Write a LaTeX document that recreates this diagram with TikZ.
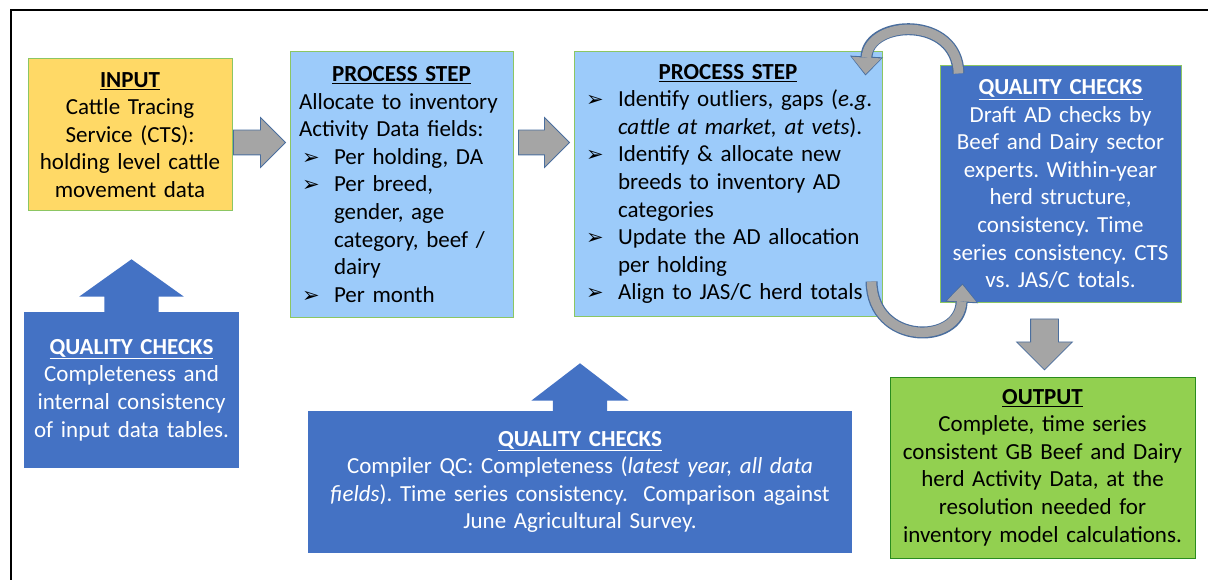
\documentclass[tikz,border=0pt]{standalone}
\usepackage{fontspec}
\setmainfont{Carlito}
\newfontfamily\symfont{DejaVu Sans}
\usetikzlibrary{positioning,shapes.arrows,arrows.meta}

\definecolor{inputfill}{HTML}{FFD966}
\definecolor{stepfill}{HTML}{9CCBFA}
\definecolor{qcblue}{HTML}{4472C4}
\definecolor{outfill}{HTML}{92D050}
\definecolor{greenline}{HTML}{8CC663}
\definecolor{arrowgray}{HTML}{A5A5A5}
\definecolor{arrowline}{HTML}{4A6E9E}

\frenchspacing
\newcommand{\bul}{\par\hangindent=35pt\hangafter=1\noindent\makebox[35pt][l]{\hspace{3pt}{\symfont\fontsize{21}{24}\selectfont ➢}}}

\begin{document}
\begin{tikzpicture}[
        x=1pt, y=-1pt,
        box/.style={
            rectangle,
            inner xsep=9pt,
            inner ysep=0pt,
            line width=1pt,
            font=\fontsize{23}{27.6}\selectfont
        },
        stepbox/.style={box, fill=stepfill, draw=greenline, align=left},
        qcbox/.style={box, fill=qcblue, text=white, align=center},
        grayarrow/.style={
            single arrow,
            fill=arrowgray,
            draw=arrowline,
            line width=0.8pt,
            inner sep=12pt,
            single arrow head extend=12.5pt,
            single arrow tip angle=90
        },
        bluearrow/.style={single arrow, fill=qcblue, draw=none, inner xsep=27pt, inner ysep=0pt, shape border rotate=90},
        loopback/.style={draw=arrowline, line width=12pt, -{Triangle[width=33pt, length=19pt, line width=0pt]}},
        loopfront/.style={draw=arrowgray, line width=9.5pt, shorten >=1.4pt, -{Triangle[width=29.5pt, length=16.5pt, line width=0pt]}}
    ]
        \useasboundingbox (0,0) rectangle (1208,580);
        \draw[line width=1.5pt] (11,580) -- (11,10) -- (1208,10);

        % boxes
        \node[box, fill=inputfill, draw=greenline, align=center, minimum width=204pt, minimum height=152pt, text width=186pt] (input) at (130,135)
            {\underline{\textbf{INPUT}}\\Cattle Tracing\\Service (CTS):\\holding level cattle\\movement data};
        \node[stepbox, minimum width=223pt, minimum height=265pt, text width=205pt] (step1) at (401.5,184.5)
            {{\centering\underline{\textbf{PROCESS STEP}}\par}
             Allocate to inventory\newline Activity Data fields:
             \bul Per holding, DA
             \bul Per breed,\newline gender, age\newline category, beef /\newline dairy
             \bul Per month};
        \node[stepbox, minimum width=308pt, minimum height=264pt, text width=290pt] (step2) at (728,184)
            {{\centering\underline{\textbf{PROCESS STEP}}\par}
             \bul Identify outliers, gaps (\textit{e.g.}\newline\textit{cattle at market, at vets}).
             \bul Identify \& allocate new\newline breeds to inventory AD\newline categories
             \bul Update the AD allocation\newline per holding
             \bul Align to JAS/C herd totals};
        \node[qcbox, draw=greenline, minimum width=241pt, minimum height=236pt, text width=223pt] (qcright) at (1060.5,184)
            {\underline{\textbf{QUALITY CHECKS}}\\Draft AD checks by\\Beef and Dairy sector\\experts. Within-year\\herd structure,\\consistency. Time\\series consistency. CTS\\vs. JAS/C totals.};
        \node[qcbox, minimum width=215pt, minimum height=156pt, text width=197pt] (qcleft) at (131.5,390)
            {\underline{\textbf{QUALITY CHECKS}}\\Completeness and\\internal consistency\\of input data tables.};
        \node[qcbox, minimum width=544pt, minimum height=142pt, text width=526pt] (qcmid) at (580,482)
            {\underline{\textbf{QUALITY CHECKS}}\\Compiler QC: Completeness (\textit{latest year, all data}\\\textit{fields}). Time series consistency.\ \ Comparison against\\June Agricultural Survey.};
        \node[box, fill=outfill, draw=green!45!black!70!greenline, align=center, minimum width=299pt, minimum height=181pt, text width=287pt] (output) at (1042.5,467.5)
            {\underline{\textbf{OUTPUT}}\\Complete, time series\\consistent GB Beef and Dairy\\herd Activity Data, at the\\resolution needed for\\inventory model calculations.};

        % block arrows
        \node[grayarrow, minimum height=52pt, anchor=tip] (arr1) at (286,142.5) {};
        \node[grayarrow, minimum height=51pt, anchor=tip] (arr2) at (570,142.5) {};
        \node[grayarrow, inner sep=13.5pt, minimum height=51pt, single arrow head extend=14pt, shape border rotate=270, anchor=tail] (arrdown) at ([xshift=-16pt,yshift=-16pt]qcright.south) {};
        \node[bluearrow, minimum height=55pt, single arrow head extend=25pt, single arrow tip angle=109, anchor=tail] (upleft) at ([yshift=-3pt]qcleft.north) {};
        \node[bluearrow, minimum height=50pt, single arrow head extend=21.5pt, single arrow tip angle=105, anchor=tail] (upmid) at ([yshift=-3pt]qcmid.north) {};

        % loop between step2 and qcright
        \coordinate (looptopstart) at ([xshift=19pt,yshift=-8pt]qcright.north west);
        \coordinate (looptopend) at ([xshift=-17pt,yshift=-24pt]step2.north east);
        \coordinate (loopbotstart) at ([xshift=-11pt,yshift=35pt]step2.south east);
        \coordinate (loopbotend) at ([xshift=23pt,yshift=19pt]qcright.south west);
        \draw[loopback] (looptopstart) .. controls +(-1,-58) and +(3,-56) .. (looptopend);
        \draw[loopfront] (looptopstart) .. controls +(-1,-58) and +(3,-56) .. (looptopend);
        \draw[loopback] (loopbotstart) .. controls +(1,64) and +(-3,62) .. (loopbotend);
        \draw[loopfront] (loopbotstart) .. controls +(1,64) and +(-3,62) .. (loopbotend);
    \end{tikzpicture}
\end{document}
